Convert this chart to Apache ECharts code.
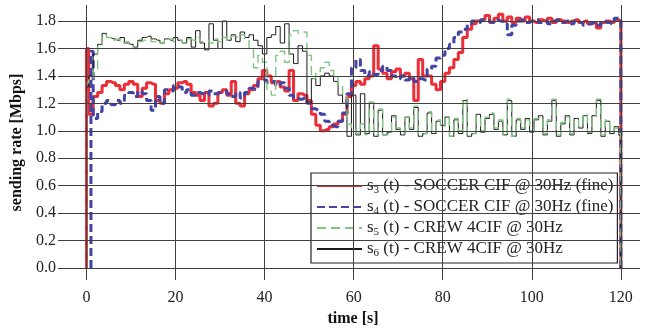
<!DOCTYPE html>
<html>
<head>
<meta charset="utf-8">
<script src="https://cdn.jsdelivr.net/npm/echarts@6/dist/echarts.min.js"></script>
<style>
  html, body { margin: 0; padding: 0; background: #fff; }
  #chart { width: 647px; height: 329px; }
</style>
</head>
<body>
<div id="chart"></div>
<script>
// tick positions
var xTicks = [0, 20, 40, 60, 80, 100, 120];
var yTicks = [0, 0.2, 0.4, 0.6, 0.8, 1.0, 1.2, 1.4, 1.6, 1.8];

// one sample per second, t = 0..120 s
var time = [];
for (var t = 0; t <= 120; t++) time.push(t);

// s3: SOCCER CIF (fine)
var s3 = [
  1.60, 1.12, 1.25, 1.28, 1.33, 1.36, 1.35, 1.33, 1.30, 1.34,
  1.36, 1.34, 1.25, 1.31, 1.35, 1.34, 1.22, 1.20, 1.27, 1.30,
  1.31, 1.35, 1.36, 1.34, 1.28, 1.26, 1.22, 1.28, 1.18, 1.20,
  1.28, 1.30, 1.26, 1.36, 1.20, 1.18, 1.27, 1.30, 1.33, 1.38,
  1.44, 1.40, 1.35, 1.36, 1.32, 1.29, 1.44, 1.22, 1.27, 1.26,
  1.22, 1.12, 1.04, 1.00, 1.01, 1.03, 1.05, 1.07, 1.12, 1.25,
  1.33, 1.36, 1.34, 1.38, 1.40, 1.62, 1.45, 1.42, 1.38, 1.43,
  1.45, 1.40, 1.42, 1.38, 1.22, 1.52, 1.40, 1.40, 1.34, 1.30,
  1.36, 1.42, 1.46, 1.52, 1.57, 1.68, 1.74, 1.78, 1.80, 1.81,
  1.84, 1.79, 1.82, 1.85, 1.80, 1.83, 1.79, 1.82, 1.80, 1.83,
  1.80, 1.79, 1.81, 1.80, 1.82, 1.79, 1.81, 1.80, 1.79, 1.80,
  1.81, 1.79, 1.80, 1.78, 1.79, 1.75, 1.79, 1.80, 1.79, 1.81,
  1.80
];
// s4: SOCCER CIF (fine), starts at about 1 s
var s4 = [
  0.00, 1.58, 1.09, 1.14, 1.20, 1.22, 1.19, 1.22, 1.20, 1.26,
  1.28, 1.25, 1.29, 1.27, 1.22, 1.15, 1.25, 1.20, 1.30, 1.29,
  1.33, 1.32, 1.28, 1.30, 1.26, 1.28, 1.27, 1.26, 1.29, 1.27,
  1.28, 1.29, 1.27, 1.25, 1.28, 1.24, 1.28, 1.31, 1.30, 1.36,
  1.37, 1.35, 1.36, 1.33, 1.35, 1.31, 1.26, 1.24, 1.23, 1.24,
  1.20, 1.16, 1.15, 1.12, 1.07, 1.04, 1.03, 1.07, 1.13, 1.27,
  1.46, 1.52, 1.44, 1.40, 1.43, 1.41, 1.44, 1.47, 1.44, 1.40,
  1.38, 1.40, 1.37, 1.39, 1.36, 1.38, 1.37, 1.45, 1.47, 1.53,
  1.55, 1.60, 1.63, 1.68, 1.72, 1.74, 1.78, 1.80, 1.79, 1.81,
  1.80, 1.79, 1.81, 1.80, 1.78, 1.70, 1.77, 1.80, 1.81, 1.79,
  1.80, 1.81, 1.79, 1.80, 1.78, 1.80, 1.81, 1.79, 1.80, 1.78,
  1.80, 1.79, 1.77, 1.78, 1.79, 1.77, 1.80, 1.79, 1.78, 1.82,
  1.80
];
// s5: CREW 4CIF
var s5 = [
  1.35, 1.38, 1.45, 1.62, 1.70, 1.68, 1.66, 1.67, 1.64, 1.65,
  1.62, 1.60, 1.65, 1.66, 1.67, 1.65, 1.66, 1.64, 1.66, 1.67,
  1.65, 1.66, 1.64, 1.67, 1.66, 1.68, 1.65, 1.66, 1.64, 1.67,
  1.65, 1.68, 1.66, 1.69, 1.68, 1.70, 1.66, 1.60, 1.46, 1.55,
  1.50, 1.30, 1.26, 1.55, 1.58, 1.50, 1.70, 1.73, 1.71, 1.72,
  1.55, 1.38, 1.42, 1.46, 1.50, 1.44, 1.40, 1.33, 1.25, 1.05,
  1.02, 0.98, 1.05, 0.97, 1.21, 0.97, 1.16, 0.97, 0.98, 1.10,
  1.02, 0.98, 1.10, 1.02, 1.18, 0.97, 0.98, 1.14, 0.99, 1.08,
  1.03, 1.10, 0.96, 1.09, 1.00, 1.23, 0.97, 0.98, 1.11, 1.00,
  1.10, 1.13, 1.02, 1.08, 0.97, 1.23, 0.96, 1.09, 1.02, 1.08,
  1.00, 1.09, 1.10, 0.98, 1.08, 1.23, 0.97, 1.06, 1.10, 0.98,
  1.08, 1.03, 1.12, 0.99, 1.10, 1.23, 0.97, 1.08, 0.99, 1.02,
  0.98
];
// s6: CREW 4CIF
var s6 = [
  1.32, 1.40, 1.56, 1.63, 1.71, 1.68, 1.67, 1.66, 1.68, 1.64,
  1.63, 1.61, 1.66, 1.68, 1.69, 1.67, 1.66, 1.64, 1.67, 1.66,
  1.68, 1.66, 1.64, 1.68, 1.61, 1.73, 1.64, 1.59, 1.78, 1.66,
  1.60, 1.80, 1.66, 1.70, 1.65, 1.72, 1.68, 1.70, 1.66, 1.62,
  1.56, 1.68, 1.70, 1.76, 1.64, 1.78, 1.56, 1.49, 1.62, 1.58,
  1.20, 1.38, 1.33, 1.40, 1.42, 1.40, 1.36, 1.26, 1.20, 0.96,
  1.26, 0.97, 1.27, 0.98, 1.20, 0.96, 1.15, 0.97, 0.99, 1.11,
  1.01, 0.97, 1.10, 1.01, 1.17, 0.96, 0.98, 1.13, 0.98, 1.07,
  1.04, 1.10, 0.96, 1.08, 0.98, 1.22, 0.96, 0.98, 1.12, 0.99,
  1.09, 1.12, 1.01, 1.07, 0.97, 1.22, 0.96, 1.08, 1.01, 1.09,
  0.99, 1.08, 1.11, 0.97, 1.07, 1.22, 0.96, 1.05, 1.11, 0.97,
  1.09, 1.02, 1.11, 0.98, 1.11, 1.22, 0.96, 1.07, 0.98, 1.03,
  0.97
];
// when each sender switches on / off [s]
var onset = { s3: 0, s4: 1, s5: 0, s6: 0 };
var stopAt = 120;

var names = {
  s3: 's3 (t) - SOCCER CIF @ 30Hz (fine)',
  s4: 's4 (t) - SOCCER CIF @ 30Hz (fine)',
  s5: 's5 (t) - CREW 4CIF @ 30Hz',
  s6: 's6 (t) - CREW 4CIF @ 30Hz'
};

function build(values, start) {
  var pts = [[start, 0]];
  time.forEach(function (t, i) {
    if (t >= start) pts.push([t, values[i]]);
  });
  pts.push([stopAt, 0]);
  return pts;
}

var font = 'Liberation Serif';
var myChart = echarts.init(document.getElementById('chart'));

var option = {
  animation: false,
  grid: { left: 58, top: 5, width: 582, height: 275, outerBoundsMode: 'none', containLabel: false },
  xAxis: {
    type: 'value',
    min: -6.4,
    max: 124.3,
    axisLine: { show: false },
    axisTick: { show: false },
    splitLine: { show: false },
    axisLabel: {
      customValues: xTicks,
      color: '#222',
      fontFamily: font,
      fontSize: 16,
      margin: 10
    },
    name: 'time [s]',
    nameLocation: 'middle',
    nameGap: 30,
    nameTextStyle: { fontFamily: font, fontWeight: 'bold', fontSize: 16, color: '#111', padding: [0, 0, 0, 8] }
  },
  yAxis: {
    type: 'value',
    min: -0.0875,
    max: 1.917,
    axisLine: { show: false },
    axisTick: { show: false },
    splitLine: { show: false },
    axisLabel: {
      customValues: yTicks,
      formatter: function (v) { return v.toFixed(1); },
      color: '#222',
      fontFamily: font,
      fontSize: 16,
      margin: 2
    },
    name: 'sending rate [Mbps]',
    nameLocation: 'middle',
    nameGap: 27,
    nameRotate: 90,
    nameTextStyle: { fontFamily: font, fontWeight: 'bold', fontSize: 16, color: '#111' }
  },
  legend: {
    data: [names.s3, names.s4, names.s5, names.s6],
    orient: 'vertical',
    left: 311,
    top: 173,
    padding: [3, 4, 4, 5],
    itemWidth: 45,
    itemHeight: 12,
    itemGap: 1,
    backgroundColor: '#fff',
    borderColor: '#222',
    borderWidth: 1.2,
    borderRadius: 0,
    itemStyle: { opacity: 0 },
    formatter: function (name) {
      return name.replace(/^s(\d)/, 's{sub|$1}');
    },
    textStyle: {
      fontFamily: font,
      fontSize: 17,
      color: '#222',
      lineHeight: 20,
      rich: {
        sub: { fontFamily: font, fontSize: 11, lineHeight: 20, verticalAlign: 'bottom', color: '#222' }
      }
    }
  },
  series: [{
    // grid lines
    type: 'line',
    data: [],
    silent: true,
    markLine: {
      silent: true,
      symbol: ['none', 'none'],
      label: { show: false },
      lineStyle: { color: '#404040', width: 1, type: 'solid' },
      data: xTicks.map(function (v) { return { xAxis: v }; })
        .concat(yTicks.map(function (v) { return { yAxis: v }; }))
    }
  }, {
    name: names.s3,
    type: 'line',
    symbol: 'none',
    step: 'middle',
    data: build(s3, onset.s3),
    itemStyle: { color: '#ee2d36' },
    lineStyle: { color: '#ee2d36', width: 3 }
  }, {
    name: names.s4,
    type: 'line',
    symbol: 'none',
    step: 'middle',
    data: build(s4, onset.s4),
    itemStyle: { color: '#4444a4' },
    lineStyle: { color: '#4444a4', width: 3, type: [8, 4] }
  }, {
    name: names.s6,
    type: 'line',
    symbol: 'none',
    step: 'middle',
    data: build(s6, onset.s6),
    itemStyle: { color: '#1a1a1a' },
    lineStyle: { color: '#1a1a1a', width: 1 }
  }, {
    name: names.s5,
    type: 'line',
    symbol: 'none',
    step: 'middle',
    data: build(s5, onset.s5),
    itemStyle: { color: '#80c480' },
    lineStyle: { color: '#80c480', width: 1.4, type: [9, 5] }
  }]
};

myChart.setOption(option);
</script>
</body>
</html>
